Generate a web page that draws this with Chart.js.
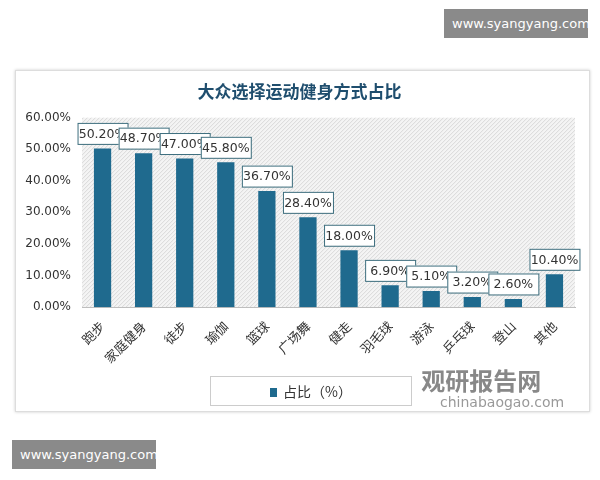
<!DOCTYPE html>
<html><head><meta charset="utf-8">
<script src="https://cdn.jsdelivr.net/npm/chart.js@4"></script>
<style>
body{margin:0;width:600px;height:480px;background:#fff;position:relative;font-family:"Noto Sans CJK SC",sans-serif;overflow:hidden}
.wm{position:absolute;background:#8a8a8a;color:#fff;font:13px "DejaVu Sans",sans-serif;padding:7px 8px;width:128px;text-align:center}
#card{position:absolute;left:15px;top:70px;width:573px;height:340px;border:1px solid #ddd;box-shadow:0 0 3px #ccc}
#legend{position:absolute;left:210px;top:376px;width:200px;height:28px;border:1px solid #ccc;font-size:14px;line-height:28px;text-align:center;color:#333}
#legend span{display:inline-block;width:7px;height:9px;background:#1f6a8e;margin-right:6px}
#logo{position:absolute;left:405px;top:362px;color:#888;font-weight:bold;font-size:24px}
#logo2{position:absolute;left:440px;top:394px;color:#999;font:14px "DejaVu Sans",sans-serif}
</style></head><body>
<div class="wm" style="left:444px;top:9px">www.syangyang.com</div>
<div class="wm" style="left:12px;top:440px">www.syangyang.com</div>
<div id="card"><canvas id="c" width="573" height="298"></canvas></div>
<div id="logo">&nbsp;&nbsp;&nbsp;观研报告网</div>
<div id="logo2">chinabaogao.com</div>
<div id="legend"><span></span>占比（%）</div>
<script>
const categories = ["跑步","家庭健身","徒步","瑜伽","篮球","广场舞","健走","羽毛球","游泳","乒乓球","登山","其他"];
const shares = [50.2,48.7,47.0,45.8,36.7,28.4,18.0,6.9,5.1,3.2,2.6,10.4];
const yTicks = [0,10,20,30,40,50,60];

const hatch = {
  id:'hatch',
  beforeDatasetsDraw(chart){
    const {ctx, chartArea:a} = chart;
    ctx.save();
    ctx.beginPath(); ctx.rect(a.left,a.top,a.right-a.left,a.bottom-a.top); ctx.clip();
    ctx.fillStyle='#f4f4f4'; ctx.fillRect(a.left,a.top,a.right-a.left,a.bottom-a.top);
    ctx.strokeStyle='#d8d8d8'; ctx.lineWidth=1;
    for(let x=a.left-400;x<a.right;x+=4){ctx.beginPath();ctx.moveTo(x,a.bottom);ctx.lineTo(x+(a.bottom-a.top),a.top);ctx.stroke();}
    ctx.restore();
  }
};
const boxLabels = {
  id:'boxLabels',
  afterDatasetsDraw(chart){
    const {ctx} = chart;
    const meta = chart.getDatasetMeta(0);
    ctx.save();
    ctx.font='12.5px "DejaVu Sans", sans-serif';
    ctx.textAlign='center'; ctx.textBaseline='middle';
    meta.data.forEach((bar,i)=>{
      const t = shares[i].toFixed(2)+'%';
      const w = 50, h = 21, x = bar.x, y = bar.y-15;
      ctx.fillStyle='#fff'; ctx.fillRect(x-w/2,y-h/2,w,h);
      ctx.strokeStyle='#3d6e7e'; ctx.lineWidth=1; ctx.strokeRect(x-w/2+.5,y-h/2+.5,w,h);
      ctx.fillStyle='#333'; ctx.fillText(t,x,y+1);
    });
    ctx.restore();
  }
};
new Chart(document.getElementById('c'),{
  type:'bar',
  data:{labels:categories,datasets:[{label:'占比（%）',data:shares,backgroundColor:'#1f6a8e',barPercentage:0.42,categoryPercentage:1}]},
  options:{
    responsive:false,animation:false,
    layout:{padding:{left:8,right:14,top:0,bottom:0}},
    plugins:{
      legend:{display:false},tooltip:{enabled:false},
      title:{display:true,text:'大众选择运动健身方式占比',color:'#1f4e6e',font:{size:17,weight:'bold',family:'"Noto Sans CJK SC"'},padding:{top:10,bottom:16}}
    },
    scales:{
      y:{min:0,max:60,afterBuildTicks(s){s.ticks=yTicks.map(v=>({value:v}));},
         afterFit(s){s.width=58;},
         ticks:{callback:v=>v.toFixed(2)+'%',color:'#333',font:{size:12,family:'"DejaVu Sans"'}},
         grid:{display:false},border:{display:false}},
      x:{grid:{display:false},border:{color:'#bbb'},
         ticks:{maxRotation:45,minRotation:45,color:'#333',font:{size:13,family:'"Noto Sans CJK SC"'}}}
    }
  },
  plugins:[hatch,boxLabels]
});
</script>
</body></html>
